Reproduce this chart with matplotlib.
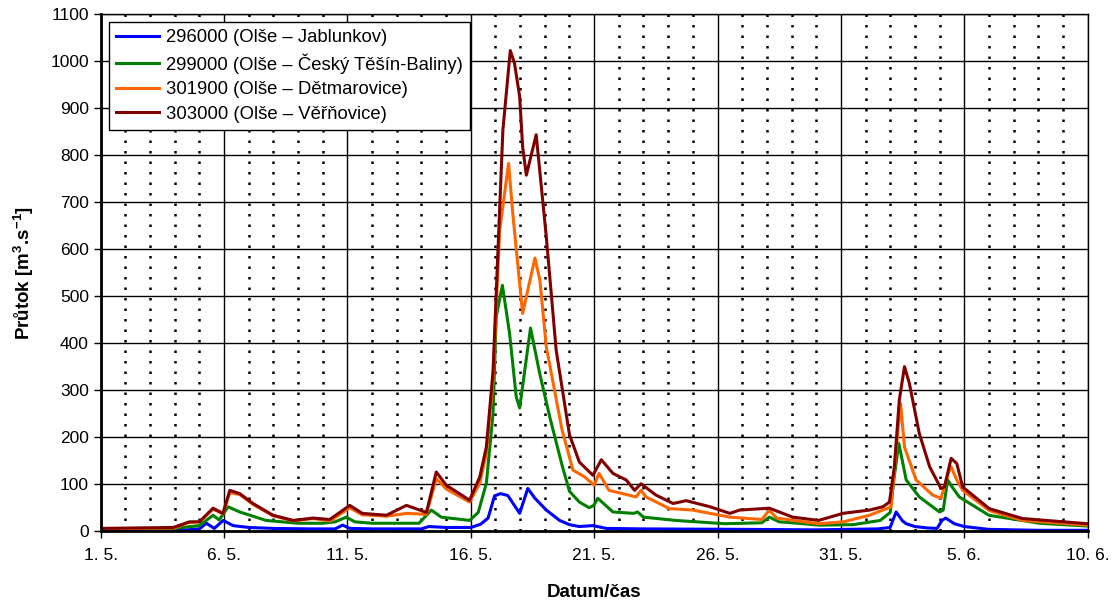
import matplotlib
matplotlib.use('Agg')
import matplotlib.pyplot as plt
from matplotlib.ticker import MultipleLocator, FixedLocator

plt.rcParams['font.family'] = ['Liberation Sans', 'DejaVu Sans']
plt.rcParams['mathtext.fontset'] = 'custom'
plt.rcParams['mathtext.rm'] = 'Liberation Sans'
plt.rcParams['mathtext.bf'] = 'Liberation Sans:bold'

# days since 1. 5.
t_296000 = [0, 3.5, 4.0, 4.28, 4.6, 4.96, 5.36, 6.0, 7, 8.5, 9.5, 9.8, 10.1, 11, 13, 13.3, 14, 15,
            15.4, 15.7, 15.96, 16.2, 16.5, 16.98, 17.31, 17.6, 18.06, 18.6, 19.0, 19.4, 19.95, 20.5,
            22, 26, 29, 31.5, 32.0, 32.24, 32.5, 32.65, 33.0, 33.5, 33.9, 34.1, 34.25, 34.6, 35.0,
            36, 38, 40]
q_296000 = [3, 3, 5, 17, 6, 23, 12, 8, 6, 5, 5, 13, 6, 5, 5, 10, 8, 8,
            15, 28, 75, 80, 76, 38, 91, 70, 45, 23, 14, 10, 12, 6,
            5, 4, 3, 5, 8, 41, 22, 16, 10, 7, 6, 23, 28, 16, 10,
            4, 2, 2]

t_299000 = [0, 3.0, 3.47, 4.0, 4.55, 4.8, 5.16, 5.63, 6.7, 8.0, 9.0, 9.5, 9.95, 10.3, 11, 12, 12.9,
            13.4, 13.8, 14.95, 15.3, 15.63, 15.9, 16.03, 16.28, 16.57, 16.84, 16.98, 17.42, 17.79,
            18.2, 18.7, 19.0, 19.4, 19.8, 19.98, 20.15, 20.76, 21.6, 21.76, 22.0, 23.3, 25.3, 26.8,
            27.1, 27.5, 28.5, 29.1, 30.5, 31.6, 32.0, 32.15, 32.35, 32.65, 33.18, 34.0, 34.15, 34.33,
            34.5, 34.8, 36, 38.05, 40]
q_299000 = [5, 6, 9, 12, 34, 24, 52, 41, 23, 17, 17, 20, 30, 20, 17, 17, 17,
            45, 30, 23, 40, 102, 250, 456, 523, 421, 286, 262, 432, 336,
            243, 140, 85, 62, 50, 55, 70, 41, 38, 41, 30, 23, 16, 18,
            30, 20, 16, 13, 14, 23, 40, 110, 187, 109, 73, 41, 45, 109,
            95, 73, 34, 17, 11]

t_301900 = [0, 3.0, 3.5, 4.0, 4.55, 4.95, 5.23, 5.63, 6.17, 6.98, 7.8, 8.6, 9.3, 10.09, 10.6, 11.58,
            12.0, 12.4, 13.2, 13.6, 14.0, 14.95, 15.36, 15.63, 15.9, 16.17, 16.53, 16.7, 17.1, 17.6,
            17.8, 18.06, 18.7, 19.14, 19.6, 20.0, 20.2, 20.6, 21.7, 21.9, 22.1, 23.06, 24.0, 25.5,
            26.8, 27.1, 27.4, 29.1, 30.1, 31.16, 32.04, 32.24, 32.42, 32.58, 33.05, 33.72, 34.06,
            34.4, 34.47, 34.7, 34.94, 36.02, 37.37, 40]
q_301900 = [5, 7, 18, 20, 47, 37, 82, 78, 57, 33, 22, 27, 22, 50, 35, 32,
            35, 38, 36, 112, 90, 62, 102, 165, 321, 640, 782, 676, 463, 581,
            534, 392, 215, 130, 116, 98, 123, 87, 73, 87, 73, 48, 45, 30,
            25, 45, 28, 16, 20, 34, 52, 172, 272, 179, 109, 77, 70,
            130, 137, 109, 87, 44, 23, 13]

t_303000 = [0, 2.93, 3.6, 4.0, 4.55, 4.95, 5.23, 5.63, 6.17, 6.98, 7.8, 8.6, 9.28, 10.09, 10.6, 11.58,
            12.39, 13.2, 13.6, 14.0, 14.95, 15.36, 15.63, 15.9, 16.3, 16.6, 16.77, 16.98, 17.1, 17.25,
            17.65, 18.06, 18.46, 19.0, 19.4, 19.95, 20.29, 20.76, 21.3, 21.64, 21.9, 22.5, 23.2,
            23.73, 24.7, 25.5, 25.9, 27.1, 28.05, 29.1, 30.08, 31.16, 31.7, 31.97, 32.17, 32.37,
            32.58, 32.78, 33.18, 33.6, 34.06, 34.2, 34.47, 34.7, 34.94, 36.02, 37.37, 40]
q_303000 = [6, 8, 20, 20, 49, 38, 87, 80, 59, 34, 23, 28, 25, 55, 38, 34,
            55, 40, 126, 98, 66, 115, 179, 340, 853, 1022, 995, 924, 818, 757,
            843, 626, 385, 205, 147, 119, 152, 123, 109, 87, 101, 77, 59,
            65, 52, 38, 45, 49, 30, 23, 38, 45, 52, 62, 137, 279,
            350, 314, 208, 137, 91, 94, 155, 144, 94, 48, 27, 16]

labels = ['296000 (Olše – Jablunkov)', '299000 (Olše – Český Těšín-Baliny)',
          '301900 (Olše – Dětmarovice)', '303000 (Olše – Věřňovice)']
colors = ['#0000ff', '#008000', '#ff6600', '#800000']
tick_days = [0, 5, 10, 15, 20, 25, 30, 35, 40]
tick_labels = ['1. 5.', '6. 5.', '11. 5.', '16. 5.', '21. 5.', '26. 5.', '31. 5.', '5. 6.', '10. 6.']

fig = plt.figure(figsize=(11.2, 6.03), dpi=100)
ax = fig.add_axes([0.090, 0.119, 0.881, 0.858])

series = [(t_296000, q_296000), (t_299000, q_299000), (t_301900, q_301900), (t_303000, q_303000)]
for (t, q), lab, c in zip(series, labels, colors):
    ax.plot(t, q, color=c, lw=2.2, label=lab, solid_joinstyle='round')

ax.set_xlim(0, 40)
ax.set_ylim(0, 1100)
ax.set_xticks(tick_days, tick_labels)
ax.xaxis.set_minor_locator(FixedLocator([d for d in range(41) if d % 5]))
ax.yaxis.set_major_locator(MultipleLocator(100))

ax.grid(which='major', axis='both', color='black', lw=1.0)
ax.grid(which='minor', axis='x', color='black', lw=1.8, linestyle=(0, (1, 3.2)))
ax.set_axisbelow(True)

ax.tick_params(which='major', direction='out', length=5, width=1, labelsize=12.5, colors='black')
ax.tick_params(which='minor', length=0)
ax.tick_params(axis='x', pad=7)
for side in ['left', 'bottom']:
    ax.spines[side].set_linewidth(2)
for side in ['top', 'right']:
    ax.spines[side].set_linewidth(1)

ax.set_xlabel('Datum/čas', fontsize=13.5, fontweight='bold', labelpad=15)
ax.set_ylabel(r'Průtok [m$^{\mathbf{3}}$.s$^{\mathbf{-1}}$]', fontsize=13.5, fontweight='bold', labelpad=10)

leg = ax.legend(loc='upper left', bbox_to_anchor=(0.008, 0.985), borderaxespad=0, fontsize=13.3,
                fancybox=False, framealpha=1, edgecolor='black', handlelength=2.3,
                labelspacing=0.4, borderpad=0.4, handletextpad=0.4)
leg.get_frame().set_linewidth(1.0)

plt.savefig('out.png', dpi=100)
plt.close()
